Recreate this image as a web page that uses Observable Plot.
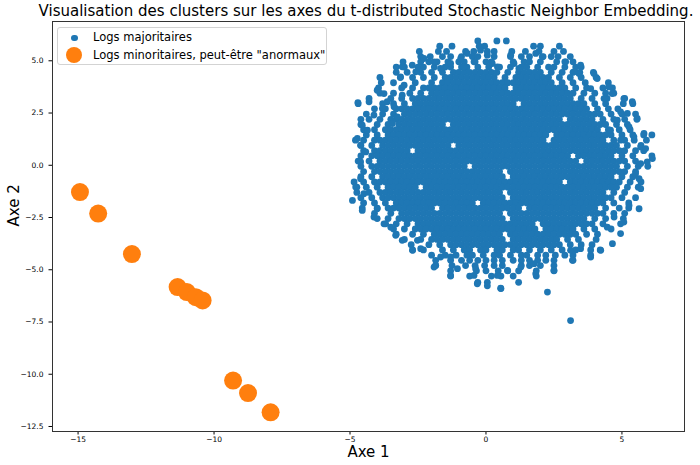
<!DOCTYPE html>
<html><head><meta charset="utf-8">
<script src="https://cdn.jsdelivr.net/npm/d3@7"></script>
<script src="https://cdn.jsdelivr.net/npm/@observablehq/plot@0.6"></script>
<style>
body{margin:0;background:#fff;font-family:"DejaVu Sans",sans-serif;}
#wrap{position:relative;width:700px;height:465px;overflow:hidden;background:#fff;}
#title{height:18px;position:relative;}
#title span{position:absolute;left:366px;top:4px;transform:translateX(-50%);white-space:nowrap;font-size:15px;line-height:15px;color:#000;}
#legend{position:absolute;left:57px;top:27px;width:268px;height:36px;border:1px solid #d3d3d3;border-radius:3px;background:rgba(255,255,255,0.85);font-size:11.5px;color:#000;}
#legend .m{position:absolute;border-radius:50%;}
#legend .t{position:absolute;left:35px;line-height:14px;white-space:nowrap;}
</style></head><body>
<div id="wrap">
<div id="title"><span>Visualisation des clusters sur les axes du t-distributed Stochastic Neighbor Embedding.</span></div>
<div id="chart"></div>
<div id="legend">
 <div class="m" style="left:13px;top:6.5px;width:6.5px;height:6.5px;background:#1f77b4"></div>
 <div class="t" style="top:2px">Logs majoritaires</div>
 <div class="m" style="left:8px;top:19px;width:16px;height:16px;background:#ff7f0e"></div>
 <div class="t" style="top:20px">Logs minoritaires, peut-être "anormaux"</div>
</div>
</div>
<script>
const orangeX = [-14.93, -14.26, -13.02, -11.34, -11.00, -10.67, -10.42, -9.30, -8.75, -7.92];
const orangeY = [-1.28, -2.31, -4.25, -5.83, -6.07, -6.31, -6.47, -10.30, -10.90, -11.82];

// dense part of the "majoritaires" cloud, read row by row
const blueRowY = [5.95, 5.7, 5.45, 5.2, 4.95, 4.7, 4.45, 4.2, 3.95, 3.7, 3.45, 3.2, 2.95, 2.7, 2.45, 2.2, 1.95, 1.7, 1.45, 1.2, 0.95, 0.7, 0.45, 0.2, -0.05, -0.3, -0.55, -0.8, -1.05, -1.3, -1.55, -1.8, -2.05, -2.3, -2.55, -2.8, -3.05, -3.3, -3.55, -3.8, -4.05, -4.3, -4.55, -4.8, -5.05, -5.3, -5.6, -5.9];
const blueRowX = [
 [-0.3, 0.4, 0.75],
 [-1.7, -1.25, -0.25, -0.05, 1.75, 2.0, 2.7],
 [-2.45, -1.75, -1.45, -0.75, -0.45, 0.05, 0.3, 0.95, 1.45, 1.95, 2.5, 2.85],
 [-2.4, -2.05, -1.6, -1.3, -0.9, -0.5, -0.3, 0.3, 0.9, 1.3, 1.6, 2.1, 2.4, 2.65, 3.1],
 [-3.05, -2.4, -2.1, -1.8, -1.4, -1.0, -0.8, -0.4, 0.0, 0.2, 1.0, 1.4, 1.6, 2.0, 2.6, 2.9, 3.2],
 [-3.3, -3.0, -2.5, -2.3, -1.9, -1.5, -1.3, -0.9, -0.7, -0.3, 0.1, 0.5, 0.9, 1.3, 1.5, 1.9, 2.3, 2.5, 2.9, 3.3, 3.5],
 [-3.3, -2.9, -2.4, -2.0, -1.6, -1.2, -1.0, -0.8, -0.6, -0.4, -0.2, 0.0, 0.2, 0.4, 0.8, 1.2, 1.4, 1.6, 1.8, 2.0, 2.4, 2.8, 3.2, 3.45, 3.95],
 [-3.9, -3.15, -2.7, -2.3, -1.9, -1.5, -1.3, -1.1, -0.9, -0.7, -0.5, -0.3, -0.1, 0.1, 0.3, 0.7, 1.1, 1.3, 1.5, 1.7, 1.9, 2.1, 2.3, 2.7, 3.1, 3.5, 4.05],
 [-3.85, -3.4, -2.6, -2.0, -1.6, -1.4, -1.2, -1.0, -0.8, -0.6, -0.4, -0.2, 0.0, 0.2, 0.4, 0.6, 0.8, 1.0, 1.2, 1.4, 1.6, 1.8, 2.0, 2.2, 2.4, 2.8, 3.2, 3.65, 4.5],
 [-3.95, -3.1, -2.7, -2.3, -2.1, -1.9, -1.7, -1.5, -1.3, -1.1, -0.9, -0.7, -0.5, -0.3, -0.1, 0.1, 0.3, 0.5, 0.7, 1.1, 1.3, 1.5, 1.7, 1.9, 2.1, 2.3, 2.5, 2.7, 2.9, 3.3, 3.7, 4.3, 4.65],
 [-3.9, -3.4, -2.8, -2.4, -2.0, -1.8, -1.6, -1.4, -1.2, -1.0, -0.8, -0.6, -0.4, -0.2, 0.0, 0.2, 0.4, 0.6, 0.8, 1.0, 1.2, 1.4, 1.6, 1.8, 2.0, 2.2, 2.4, 2.6, 2.8, 3.0, 3.2, 3.6, 4.0, 4.4, 4.7],
 [-4.3, -3.5, -3.1, -2.7, -2.5, -2.3, -2.1, -1.9, -1.7, -1.5, -1.3, -1.1, -0.9, -0.7, -0.5, -0.3, -0.1, 0.1, 0.3, 0.5, 0.7, 0.9, 1.1, 1.3, 1.5, 1.7, 1.9, 2.1, 2.3, 2.5, 2.7, 2.9, 3.1, 3.5, 3.9, 4.45, 5.1],
 [-4.7, -3.8, -3.4, -3.0, -2.6, -2.4, -2.2, -2.0, -1.8, -1.6, -1.4, -1.2, -1.0, -0.8, -0.6, -0.4, -0.2, 0.0, 0.2, 0.4, 0.6, 0.8, 1.0, 1.4, 1.6, 1.8, 2.0, 2.2, 2.4, 2.6, 2.8, 3.0, 3.2, 3.4, 3.6, 4.0, 4.4, 5.05, 5.4],
 [-4.1, -3.7, -3.3, -3.1, -2.9, -2.7, -2.5, -2.3, -2.1, -1.9, -1.7, -1.5, -1.3, -1.1, -0.9, -0.7, -0.5, -0.3, -0.1, 0.1, 0.3, 0.5, 0.7, 0.9, 1.1, 1.3, 1.5, 1.7, 1.9, 2.1, 2.3, 2.5, 2.7, 2.9, 3.1, 3.3, 3.5, 3.7, 4.1, 4.5, 4.85],
 [-4.4, -3.8, -3.4, -3.0, -2.8, -2.6, -2.4, -2.2, -2.0, -1.8, -1.6, -1.4, -1.2, -1.0, -0.8, -0.6, -0.4, -0.2, 0.0, 0.2, 0.4, 0.6, 0.8, 1.0, 1.2, 1.4, 1.6, 1.8, 2.0, 2.2, 2.4, 2.6, 2.8, 3.0, 3.2, 3.4, 3.6, 3.8, 4.0, 4.2, 4.6, 5.0, 5.5],
 [-4.6, -4.3, -3.9, -3.5, -3.3, -3.1, -2.9, -2.7, -2.5, -2.3, -2.1, -1.9, -1.7, -1.5, -1.3, -1.1, -0.9, -0.7, -0.5, -0.3, -0.1, 0.1, 0.3, 0.5, 0.7, 0.9, 1.1, 1.3, 1.5, 1.7, 1.9, 2.1, 2.3, 2.5, 2.7, 3.1, 3.3, 3.5, 3.7, 3.9, 4.3, 4.7, 5.1, 5.55],
 [-4.6, -4.0, -3.6, -3.2, -3.0, -2.8, -2.6, -2.4, -2.2, -2.0, -1.8, -1.6, -1.2, -1.0, -0.8, -0.6, -0.4, -0.2, 0.0, 0.2, 0.4, 0.6, 0.8, 1.0, 1.2, 1.4, 1.6, 1.8, 2.0, 2.2, 2.4, 2.6, 2.8, 3.0, 3.2, 3.4, 3.6, 3.8, 4.0, 4.2, 4.4, 4.8, 5.2],
 [-4.5, -4.1, -3.7, -3.5, -3.3, -3.1, -2.9, -2.7, -2.5, -2.3, -2.1, -1.9, -1.7, -1.5, -1.3, -1.1, -0.9, -0.7, -0.5, -0.3, -0.1, 0.1, 0.3, 0.5, 0.7, 0.9, 1.1, 1.3, 1.5, 1.7, 1.9, 2.1, 2.3, 2.5, 2.7, 2.9, 3.1, 3.3, 3.5, 3.7, 3.9, 4.1, 4.5, 4.9, 5.3],
 [-4.4, -4.0, -3.6, -3.4, -3.2, -3.0, -2.8, -2.6, -2.4, -2.2, -2.0, -1.8, -1.6, -1.4, -1.2, -1.0, -0.8, -0.6, -0.4, -0.2, 0.0, 0.2, 0.4, 0.6, 0.8, 1.0, 1.2, 1.4, 1.6, 1.8, 2.0, 2.2, 2.6, 2.8, 3.0, 3.2, 3.4, 3.6, 3.8, 4.0, 4.2, 4.4, 4.6, 5.0, 5.4, 5.8, 6.1],
 [-4.8, -4.5, -4.1, -3.9, -3.7, -3.5, -3.3, -3.1, -2.9, -2.7, -2.5, -2.3, -2.1, -1.9, -1.7, -1.5, -1.3, -1.1, -0.9, -0.7, -0.5, -0.3, -0.1, 0.1, 0.3, 0.5, 0.7, 0.9, 1.1, 1.3, 1.5, 1.7, 1.9, 2.1, 2.5, 2.7, 2.9, 3.1, 3.3, 3.5, 3.7, 3.9, 4.1, 4.3, 4.7, 5.1, 5.45, 5.9],
 [-4.6, -4.2, -3.8, -3.6, -3.4, -3.2, -3.0, -2.8, -2.6, -2.4, -2.2, -2.0, -1.8, -1.6, -1.4, -1.0, -0.8, -0.6, -0.4, -0.2, 0.0, 0.2, 0.4, 0.6, 0.8, 1.0, 1.2, 1.4, 1.6, 1.8, 2.0, 2.2, 2.4, 2.6, 2.8, 3.0, 3.2, 3.4, 3.6, 3.8, 4.0, 4.2, 4.4, 4.6, 4.8, 5.2, 5.7],
 [-4.5, -4.1, -3.9, -3.7, -3.5, -3.3, -3.1, -2.9, -2.5, -2.3, -2.1, -1.9, -1.7, -1.5, -1.3, -1.1, -0.9, -0.7, -0.5, -0.3, -0.1, 0.1, 0.3, 0.5, 0.7, 0.9, 1.1, 1.3, 1.5, 1.7, 1.9, 2.1, 2.3, 2.5, 2.7, 2.9, 3.1, 3.3, 3.5, 3.7, 3.9, 4.1, 4.3, 4.5, 4.7, 4.9, 5.1, 5.5, 5.8],
 [-4.6, -4.2, -4.0, -3.8, -3.6, -3.4, -3.2, -3.0, -2.8, -2.6, -2.4, -2.2, -2.0, -1.8, -1.6, -1.4, -1.2, -1.0, -0.8, -0.6, -0.4, -0.2, 0.0, 0.2, 0.4, 0.6, 0.8, 1.0, 1.2, 1.4, 1.6, 1.8, 2.0, 2.2, 2.4, 2.6, 2.8, 3.0, 3.4, 3.6, 3.8, 4.0, 4.2, 4.4, 4.6, 5.0, 5.4, 6.1],
 [-4.7, -4.3, -3.9, -3.7, -3.5, -3.3, -3.1, -2.9, -2.7, -2.5, -2.3, -2.1, -1.9, -1.7, -1.5, -1.3, -1.1, -0.9, -0.7, -0.5, -0.3, -0.1, 0.1, 0.3, 0.5, 0.7, 0.9, 1.1, 1.3, 1.5, 1.7, 1.9, 2.1, 2.3, 2.5, 2.7, 2.9, 3.1, 3.3, 3.7, 3.9, 4.1, 4.3, 4.5, 4.7, 4.9, 5.1, 5.5],
 [-4.6, -4.2, -4.0, -3.8, -3.6, -3.4, -3.2, -3.0, -2.8, -2.6, -2.4, -2.2, -2.0, -1.8, -1.6, -1.4, -1.2, -1.0, -0.8, -0.4, -0.2, 0.0, 0.2, 0.4, 0.6, 0.8, 1.0, 1.2, 1.4, 1.6, 1.8, 2.0, 2.2, 2.4, 2.6, 2.8, 3.0, 3.2, 3.4, 3.6, 3.8, 4.0, 4.2, 4.4, 4.6, 4.8, 5.2, 5.6, 5.95],
 [-4.5, -4.1, -3.9, -3.7, -3.5, -3.3, -3.1, -2.9, -2.7, -2.5, -2.3, -2.1, -1.9, -1.7, -1.5, -1.3, -1.1, -0.9, -0.7, -0.5, -0.3, -0.1, 0.1, 0.3, 0.5, 0.9, 1.1, 1.3, 1.5, 1.7, 1.9, 2.1, 2.3, 2.5, 2.7, 2.9, 3.1, 3.3, 3.5, 3.7, 3.9, 4.1, 4.3, 4.5, 4.7, 4.9, 5.1, 5.5],
 [-4.6, -4.2, -3.8, -3.6, -3.4, -3.2, -3.0, -2.8, -2.6, -2.4, -2.2, -2.0, -1.8, -1.6, -1.4, -1.2, -1.0, -0.8, -0.6, -0.4, -0.2, 0.0, 0.2, 0.4, 0.6, 1.0, 1.2, 1.4, 1.6, 1.8, 2.0, 2.2, 2.4, 2.6, 2.8, 3.0, 3.2, 3.4, 3.6, 3.8, 4.0, 4.2, 4.4, 4.6, 5.0, 5.4],
 [-4.85, -4.5, -4.1, -3.9, -3.7, -3.5, -3.3, -3.1, -2.9, -2.7, -2.5, -2.3, -2.1, -1.9, -1.7, -1.5, -1.3, -1.1, -0.9, -0.7, -0.5, -0.3, -0.1, 0.1, 0.3, 0.5, 0.7, 0.9, 1.1, 1.3, 1.5, 1.7, 1.9, 2.1, 2.3, 2.5, 2.7, 3.1, 3.3, 3.5, 3.7, 3.9, 4.1, 4.3, 4.5, 4.7, 4.9, 5.3, 5.7],
 [-4.75, -4.4, -4.0, -3.6, -3.4, -3.2, -3.0, -2.8, -2.6, -2.2, -2.0, -1.8, -1.6, -1.4, -1.2, -1.0, -0.8, -0.6, -0.4, -0.2, 0.0, 0.2, 0.4, 0.6, 0.8, 1.0, 1.2, 1.4, 1.6, 1.8, 2.0, 2.2, 2.4, 2.6, 2.8, 3.0, 3.2, 3.4, 3.6, 3.8, 4.0, 4.2, 4.4, 4.6, 4.8, 5.2, 5.6],
 [-4.75, -4.3, -3.9, -3.7, -3.5, -3.3, -3.1, -2.9, -2.7, -2.5, -2.3, -2.1, -1.9, -1.7, -1.5, -1.3, -1.1, -0.9, -0.7, -0.5, -0.3, -0.1, 0.1, 0.3, 0.5, 0.9, 1.1, 1.3, 1.5, 1.7, 1.9, 2.1, 2.3, 2.5, 2.7, 2.9, 3.1, 3.3, 3.5, 3.7, 3.9, 4.1, 4.3, 4.7, 5.1],
 [-4.6, -4.2, -3.8, -3.6, -3.4, -3.2, -3.0, -2.8, -2.6, -2.4, -2.2, -2.0, -1.8, -1.6, -1.4, -1.2, -1.0, -0.8, -0.6, -0.4, -0.2, 0.0, 0.2, 0.4, 0.6, 1.0, 1.2, 1.4, 1.6, 1.8, 2.0, 2.2, 2.4, 2.6, 2.8, 3.0, 3.2, 3.4, 3.6, 3.8, 4.0, 4.2, 4.4, 4.6, 5.0, 5.5],
 [-4.5, -4.1, -3.7, -3.3, -3.1, -2.9, -2.7, -2.5, -2.3, -2.1, -1.9, -1.7, -1.5, -1.3, -1.1, -0.9, -0.7, -0.5, -0.1, 0.1, 0.3, 0.5, 0.7, 0.9, 1.1, 1.3, 1.5, 1.7, 1.9, 2.1, 2.3, 2.5, 2.7, 2.9, 3.1, 3.3, 3.5, 3.7, 3.9, 4.1, 4.3, 4.7, 5.25],
 [-4.55, -4.0, -3.6, -3.4, -3.2, -3.0, -2.8, -2.6, -2.4, -2.2, -2.0, -1.6, -1.4, -1.2, -1.0, -0.8, -0.6, -0.4, -0.2, 0.0, 0.2, 0.4, 0.6, 0.8, 1.0, 1.2, 1.6, 1.8, 2.0, 2.2, 2.4, 2.6, 2.8, 3.0, 3.2, 3.4, 3.6, 3.8, 4.0, 4.4, 4.9, 5.25],
 [-4.1, -3.5, -3.1, -2.9, -2.7, -2.5, -2.3, -2.1, -1.9, -1.7, -1.5, -1.3, -1.1, -0.9, -0.7, -0.5, -0.3, -0.1, 0.1, 0.3, 0.5, 0.9, 1.1, 1.3, 1.5, 1.7, 1.9, 2.1, 2.3, 2.5, 2.7, 2.9, 3.1, 3.3, 3.5, 3.7, 3.9, 4.1, 4.3, 4.7, 5.1],
 [-4.0, -3.6, -3.2, -3.0, -2.8, -2.6, -2.4, -2.2, -2.0, -1.8, -1.6, -1.4, -1.2, -1.0, -0.8, -0.6, -0.4, -0.2, 0.0, 0.2, 0.4, 0.6, 1.0, 1.2, 1.4, 1.6, 1.8, 2.0, 2.2, 2.4, 2.6, 2.8, 3.0, 3.2, 3.4, 3.6, 4.0, 4.4, 5.05],
 [-3.75, -3.3, -2.9, -2.5, -2.3, -2.1, -1.9, -1.7, -1.5, -1.3, -1.1, -0.9, -0.7, -0.5, -0.3, -0.1, 0.1, 0.3, 0.5, 0.7, 0.9, 1.1, 1.3, 1.5, 1.7, 2.1, 2.3, 2.5, 2.7, 2.9, 3.1, 3.3, 3.5, 3.7, 3.9, 4.3, 4.95],
 [-3.4, -3.0, -2.6, -2.4, -2.2, -2.0, -1.8, -1.6, -1.4, -1.2, -1.0, -0.8, -0.6, -0.4, -0.2, 0.0, 0.2, 0.4, 0.6, 0.8, 1.0, 1.2, 1.4, 1.6, 1.8, 2.2, 2.4, 2.6, 2.8, 3.0, 3.2, 3.6, 4.0, 4.6],
 [-3.3, -2.7, -2.3, -1.9, -1.7, -1.5, -1.3, -1.1, -0.9, -0.7, -0.5, -0.3, -0.1, 0.1, 0.3, 0.5, 0.9, 1.1, 1.3, 1.5, 1.7, 1.9, 2.1, 2.3, 2.5, 2.7, 2.9, 3.1, 3.3, 3.7, 4.1],
 [-3.0, -2.4, -2.0, -1.8, -1.6, -1.4, -1.2, -1.0, -0.8, -0.6, -0.4, -0.2, 0.0, 0.2, 0.4, 0.6, 1.0, 1.2, 1.4, 1.6, 1.8, 2.0, 2.2, 2.4, 2.6, 3.0, 3.4, 4.05],
 [-2.75, -2.1, -1.7, -1.3, -1.1, -0.9, -0.7, -0.5, -0.3, -0.1, 0.1, 0.3, 0.5, 0.7, 0.9, 1.1, 1.3, 1.5, 1.7, 1.9, 2.1, 2.3, 2.5, 2.7, 3.1, 3.5, 3.9],
 [-2.7, -2.3, -1.6, -1.2, -0.8, -0.6, -0.2, 0.0, 0.4, 0.6, 1.0, 1.2, 1.6, 2.0, 2.4, 2.8, 3.3, 3.85, 4.2],
 [-2.0, -1.5, -1.1, -0.7, -0.5, -0.1, 0.3, 0.5, 0.9, 1.3, 1.5, 1.9, 2.2, 2.55, 2.9, 3.2, 3.85],
 [-1.85, -1.3, -0.9, -0.6, -0.3, 0.0, 0.3, 0.6, 1.0, 1.3, 1.6, 1.9, 2.2, 2.5, 3.2],
 [-1.85, -1.25, -0.75, -0.4, -0.05, 0.3, 0.6, 1.3, 1.6, 2.0, 2.5],
 [-1.3, -0.35, 0.0, 0.45, 0.8, 1.2, 1.85, 2.5],
 [-1.3, -0.6, 0.2, 0.55, 1.0, 1.85],
 [-0.3, 0.05, 1.2],
 [0.55]
];

// loose points along the rim of the cloud, read individually
const blueRimX = [-2.28, -2.71, -2.58, -3.08, -3.14, -3.01, -3.08, -4.0, -3.75, -3.63, -3.81, -4.71, -4.3, -4.12, -4.55, -4.36, -4.73, -4.61, -4.42, -3.38, -3.26, -3.44, -1.91, -1.67, -1.3, -0.93, -0.69, -0.44, -0.81, -0.2, 0.05, 0.23, 0.42,
  0.91, 1.03, 1.21, 2.07, 1.83, 2.93, 3.48, 3.42, 3.24, 3.97, 4.09, 3.85, 4.52, 4.64, 4.34, 5.07, 5.38, 5.2, 5.56, 4.95, 5.26, 5.81, 5.44, 5.69, 5.87, 6.12, 5.69, 4.83, 4.58, 4.95,
  -4.61, -4.91, -4.79, -4.61, -4.49, -4.55, -4.12, -3.69, -4.0, -3.32, -3.5, -3.08, -2.7, -2.4, -2.52, -1.85, -1.67, -1.3, -1.05, -1.3, -1.91, -0.38, -0.32, 0.05, 0.42, -0.44,
  0.79, 1.28, 1.83, 1.77, 2.5, 3.18, 3.11, 3.85, 3.48, 4.22, 4.65, 4.46, 4.95, 5.07, 4.71, 5.63, 5.26, 5.69, 5.63, 5.93, 5.5,
  0.54, 2.26, 3.11];
const blueRimY = [5.11, 4.79, 4.47, 4.71, 4.23, 3.83, 3.35, 3.59, 3.43, 3.04, 2.72, 3.0, 3.04, 2.4, 1.92, 1.68, 1.28, 0.96, 0.64, 2.8, 2.32, 2.0, 4.95, 4.63, 4.87, 5.11, 5.35, 4.95, 4.71, 5.51, 5.27, 4.87, 4.71,
  5.27, 4.87, 4.63, 5.19, 5.35, 4.95, 4.79, 4.39, 4.47, 4.39, 4.15, 3.67, 3.75, 3.43, 3.19, 3.19, 3.04, 2.48, 2.24, 2.56, 1.84, 1.52, 1.36, 0.88, 0.8, 0.32, 0.08, 2.16, 1.68, 1.2,
  0.16, -1.68, -1.04, -0.64, -1.36, -2.16, -2.48, -2.8, -2.08, -3.35, -2.96, -3.59, -4.07, -3.99, -3.59, -4.79, -4.39, -4.39, -4.95, -5.27, -4.87, -4.95, -5.67, -5.77, -5.27, -5.27,
  -5.03, -4.87, -5.19, -4.71, -5.03, -4.55, -4.07, -4.39, -3.99, -4.07, -3.75, -2.96, -3.27, -2.72, -2.48, -2.08, -1.92, -1.12, -0.64, 0.16, -0.4,
  -5.88, -6.07, -7.43];

const xTicks = [-15, -10, -5, 0, 5];
const yTicks = [-12.5, -10, -7.5, -5, -2.5, 0, 2.5, 5];

const blue = [];
blueRowY.forEach((y, i) => (blueRowX[i] || []).forEach(x => blue.push({x, y})));
blueRimX.forEach((x, i) => { if (blueRimY[i] !== undefined) blue.push({x, y: blueRimY[i]}); });
const orange = orangeX.map((x, i) => ({x, y: orangeY[i]}));

const chart = Plot.plot({
  width: 700, height: 447,
  marginTop: 3, marginBottom: 34, marginLeft: 52, marginRight: 16,
  style: {fontFamily: "DejaVu Sans", fontSize: "7.5px", color: "#000", background: "#fff", overflow: "visible"},
  x: {domain: [-15.94, 7.3], ticks: xTicks, tickFormat: d3.format("d"), tickSize: 3.5, tickPadding: 1.5, label: null},
  y: {domain: [-12.74, 6.88], ticks: yTicks, tickFormat: d3.format(".1f"), tickSize: 3.5, label: null},
  marks: [
    Plot.dot(blue, {x: "x", y: "y", r: 3.4, fill: "#1f77b4", stroke: "none"}),
    Plot.dot(orange, {x: "x", y: "y", r: 9, fill: "#ff7f0e", stroke: "none"}),
    Plot.frame({stroke: "#333", strokeWidth: 1}),
    Plot.text(["Axe 1"], {frameAnchor: "bottom", dy: 25, fontSize: 15, fill: "#000"}),
    Plot.text(["Axe 2"], {frameAnchor: "left", dx: -38, rotate: -90, fontSize: 15, fill: "#000"})
  ]
});
document.getElementById("chart").appendChild(chart);
</script>
</body></html>
